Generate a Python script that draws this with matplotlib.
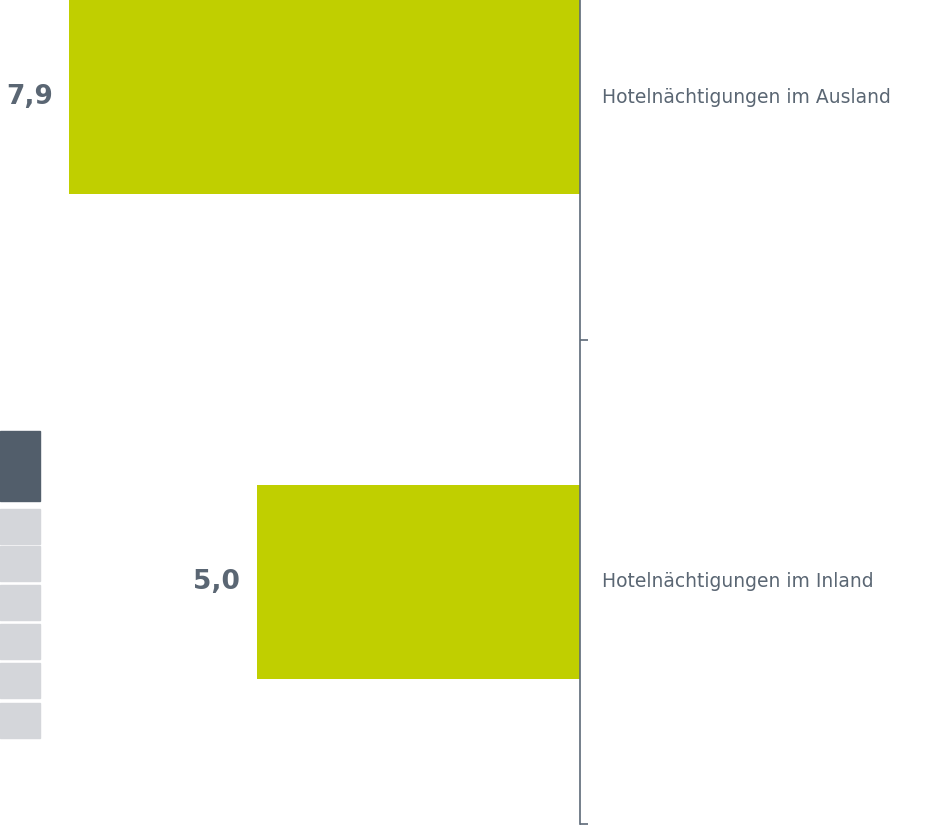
import matplotlib.pyplot as plt
from matplotlib.patches import Rectangle

# data
categories = ["Hotelnächtigungen im Ausland", "Hotelnächtigungen im Inland"]
values = [7.9, 5.0]
value_labels = ["7,9", "5,0"]

bar_color = "#c0cf00"
text_color = "#5a6673"
axis_color = "#5e6a78"

W, H = 931, 826
fig = plt.figure(figsize=(W / 100, H / 100), dpi=100)

# axes: zero line at x=580px, category bands 485px tall, top band partly cut off
ax = fig.add_axes([0, 2 / H, 580 / W, 969 / H])
ax.set_xlim(-580 / 64.7, 0)
ax.set_ylim(len(categories) - 0.5, -0.5)

pos = list(range(len(categories)))
ax.barh(pos, [-v for v in values], height=0.4, color=bar_color)

for p, v, lab in zip(pos, values, value_labels):
    ax.text(-v - 0.25, p, lab, ha="right", va="center", fontsize=19,
            fontweight="bold", color=text_color)

for p, c in zip(pos, categories):
    ax.text(0.34, p, c, ha="left", va="center", fontsize=13.5,
            color=text_color, clip_on=False)

for s in ["top", "left", "bottom"]:
    ax.spines[s].set_visible(False)
ax.spines["right"].set_color(axis_color)
ax.spines["right"].set_linewidth(1.2)
ax.set_xticks([])
ax.yaxis.tick_right()
ax.set_yticks([p + 0.5 for p in pos])
ax.set_yticklabels([])
ax.tick_params(axis="y", length=5.5, width=1.2, color=axis_color, direction="out")

# decorative boxes on the left edge
fig.patches.append(Rectangle((0, (H - 501) / H), 40 / W, 70 / H,
                             transform=fig.transFigure, color="#525e6b"))
for top in [509, 546, 585, 624, 663, 703]:
    fig.patches.append(Rectangle((0, (H - top - 35) / H), 40 / W, 35 / H,
                                 transform=fig.transFigure, color="#d4d6da"))

fig.savefig("out.png", dpi=100)
